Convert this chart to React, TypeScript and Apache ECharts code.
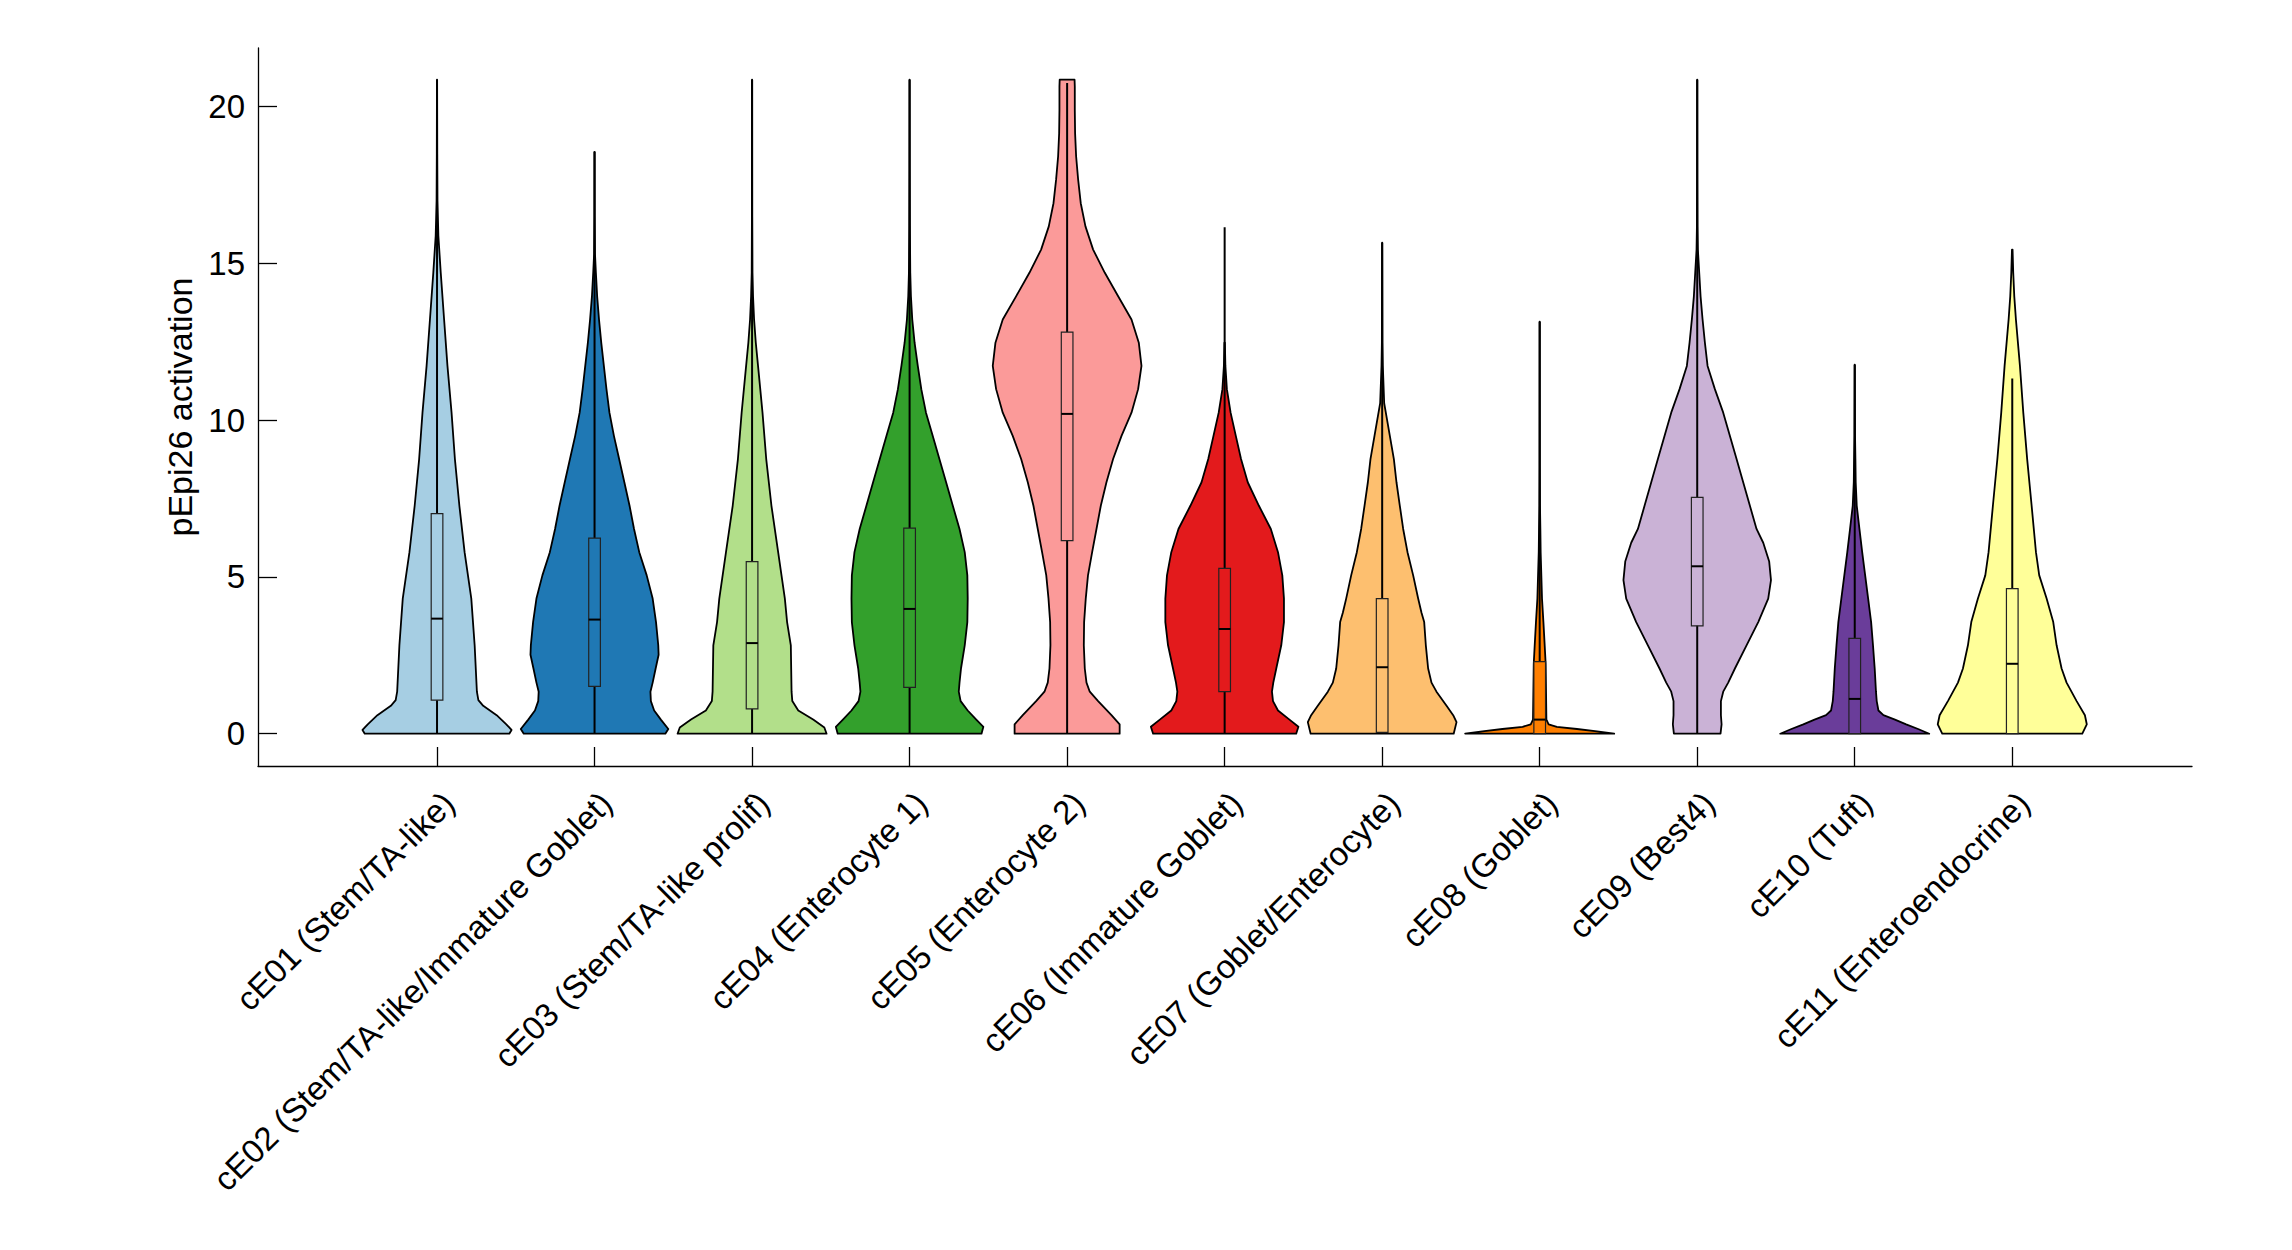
import React, { useEffect, useRef } from "react";
import * as echarts from "echarts";

const categories = [
  "cE01 (Stem/TA-like)",
  "cE02 (Stem/TA-like/Immature Goblet)",
  "cE03 (Stem/TA-like prolif)",
  "cE04 (Enterocyte 1)",
  "cE05 (Enterocyte 2)",
  "cE06 (Immature Goblet)",
  "cE07 (Goblet/Enterocyte)",
  "cE08 (Goblet)",
  "cE09 (Best4)",
  "cE10 (Tuft)",
  "cE11 (Enteroendocrine)",
];

const colors = [
  "#a6cee3", "#1f78b4", "#b2df8a", "#33a02c", "#fb9a99", "#e31a1c",
  "#fdbf6f", "#ff7f00", "#cab2d6", "#6a3d9a", "#ffff99",
];

// Box-plot statistics
const q1 = [1.07, 1.51, 0.79, 1.48, 6.16, 1.34, 0.04, 0.0, 3.44, 0.0, 0.0];
const medians = [3.67, 3.64, 2.89, 3.98, 10.2, 3.34, 2.12, 0.45, 5.34, 1.11, 2.23];
const q3 = [7.02, 6.24, 5.49, 6.56, 12.81, 5.27, 4.31, 2.3, 7.54, 3.04, 4.63];
const whiskerHigh = [20.86, 18.56, 20.86, 20.86, 20.75, 16.15, 15.66, 13.14, 20.86, 11.77, 11.33];

// Violin density profiles: [value, relative half-width]
const v01 = [[0,0.97],[0.12,1.0],[0.30,0.93],[0.59,0.80],[0.89,0.62],[1.07,0.555],[1.34,0.535],[2.82,0.505],[4.31,0.46],[5.79,0.37],[7.27,0.30],[8.76,0.24],[10.24,0.195],[11.73,0.14],[13.21,0.095],[14.70,0.05],[15.88,0.018],[17.0,0.006],[18.5,0.003],[20.86,0.001]];
const v02 = [[0,0.95],[0.15,0.99],[0.45,0.89],[0.74,0.80],[1.04,0.756],[1.34,0.75],[1.63,0.78],[2.08,0.82],[2.52,0.86],[2.82,0.855],[3.56,0.825],[4.31,0.78],[5.05,0.70],[5.79,0.60],[6.53,0.53],[7.27,0.47],[8.02,0.40],[8.76,0.33],[9.50,0.26],[10.24,0.20],[10.99,0.16],[11.73,0.125],[12.47,0.09],[13.21,0.06],[13.95,0.035],[14.70,0.018],[15.30,0.006],[16.5,0.002],[18.56,0.001]];
const v03 = [[0,1.0],[0.2,0.97],[0.45,0.82],[0.74,0.62],[1.04,0.54],[1.34,0.53],[2.82,0.52],[3.56,0.47],[4.31,0.44],[5.79,0.35],[7.27,0.26],[8.76,0.19],[10.24,0.14],[11.73,0.08],[12.47,0.05],[13.21,0.027],[13.95,0.013],[14.70,0.005],[16.5,0.002],[20.86,0.001]];
const v04 = [[0,0.965],[0.22,0.99],[0.45,0.895],[0.74,0.78],[1.04,0.685],[1.34,0.66],[1.63,0.67],[2.08,0.69],[2.82,0.74],[3.56,0.775],[4.31,0.78],[5.05,0.775],[5.79,0.74],[6.53,0.67],[7.27,0.58],[8.02,0.49],[8.76,0.40],[9.50,0.31],[10.24,0.22],[10.99,0.157],[11.73,0.11],[12.47,0.067],[13.21,0.036],[13.95,0.018],[14.70,0.009],[16.2,0.004],[18.0,0.002],[20.86,0.001]];
const v05 = [[0,0.705],[0.30,0.705],[0.59,0.595],[1.04,0.416],[1.34,0.304],[1.63,0.26],[2.08,0.237],[2.82,0.224],[3.56,0.228],[4.31,0.25],[5.05,0.28],[5.79,0.336],[6.53,0.394],[7.27,0.452],[8.02,0.528],[8.76,0.617],[9.50,0.73],[10.24,0.864],[10.99,0.953],[11.73,0.998],[12.47,0.962],[13.21,0.864],[13.95,0.685],[14.70,0.506],[15.44,0.349],[16.18,0.246],[16.92,0.183],[17.67,0.148],[18.41,0.121],[19.15,0.107],[19.89,0.103],[20.64,0.103],[20.86,0.10]];
const v06 = [[0,0.96],[0.22,0.99],[0.45,0.87],[0.74,0.716],[1.04,0.649],[1.34,0.635],[1.63,0.653],[2.08,0.693],[2.82,0.76],[3.56,0.796],[4.31,0.796],[5.05,0.774],[5.79,0.716],[6.53,0.62],[7.27,0.46],[8.02,0.31],[8.76,0.22],[9.50,0.15],[10.24,0.08],[10.99,0.03],[11.73,0.01],[12.47,0.003]];
const v07 = [[0,0.96],[0.37,0.998],[0.59,0.953],[0.89,0.864],[1.34,0.729],[1.63,0.662],[2.08,0.617],[2.82,0.586],[3.56,0.564],[3.86,0.528],[4.31,0.483],[5.05,0.416],[5.79,0.34],[6.53,0.282],[7.27,0.237],[8.02,0.192],[8.76,0.157],[9.50,0.103],[10.24,0.049],[10.54,0.027],[11.73,0.009],[12.47,0.004],[15.66,0.001]];
const v08 = [[0,1.0],[0.074,0.77],[0.15,0.50],[0.22,0.23],[0.30,0.12],[0.45,0.09],[1.34,0.085],[2.23,0.08],[2.82,0.067],[3.56,0.05],[4.31,0.031],[5.05,0.022],[5.79,0.013],[6.53,0.009],[7.27,0.004],[8.5,0.002],[13.14,0.001]];
const v09 = [[0,0.313],[0.30,0.327],[0.59,0.318],[1.04,0.318],[1.34,0.349],[1.63,0.416],[2.08,0.506],[2.82,0.662],[3.56,0.819],[4.31,0.953],[4.90,0.99],[5.49,0.966],[6.09,0.886],[6.53,0.796],[7.27,0.707],[8.02,0.617],[8.76,0.528],[9.50,0.438],[10.24,0.349],[10.99,0.237],[11.73,0.139],[12.47,0.103],[13.21,0.072],[13.95,0.045],[14.70,0.027],[15.44,0.009],[16.18,0.004],[17.67,0.002],[20.86,0.001]];
const v10 = [[0,1.0],[0.15,0.85],[0.30,0.69],[0.45,0.54],[0.59,0.385],[0.74,0.318],[1.04,0.295],[1.34,0.285],[2.08,0.268],[2.82,0.245],[3.56,0.22],[4.31,0.18],[5.05,0.14],[5.79,0.10],[6.53,0.063],[7.27,0.027],[8.02,0.013],[8.76,0.009],[9.50,0.004],[11.77,0.001]];
const v11 = [[0,0.94],[0.30,1.0],[0.59,0.975],[1.04,0.864],[1.63,0.729],[2.08,0.662],[2.82,0.595],[3.56,0.55],[4.31,0.461],[5.05,0.362],[5.79,0.318],[7.27,0.26],[8.76,0.20],[10.24,0.148],[11.73,0.103],[13.21,0.049],[13.95,0.027],[14.70,0.013],[15.44,0.004]];

const profiles = [v01, v02, v03, v04, v05, v06, v07, v08, v09, v10, v11];

const yTicks = [0, 5, 10, 15, 20];
const xTicks = categories.map((_, i) => i + 1);

const MAX_HALF = 0.473;
const BOX_HALF = 0.037;
const FONT = "'Liberation Sans', Arial, Helvetica, sans-serif";
const INK = "#000000";

export default function App() {
  const ref = useRef<HTMLDivElement>(null);

  useEffect(() => {
    if (!ref.current) return;
    const chart = echarts.init(ref.current, undefined, { renderer: "svg" });

    const renderItem = (params: any, api: any) => {
      const i = params.dataIndex;
      const cx = i + 1;
      const prof = profiles[i];
      const pts: number[][] = [];
      for (const [y, w] of prof) pts.push(api.coord([cx + w * MAX_HALF, y]));
      for (let k = prof.length - 1; k >= 0; k--) {
        pts.push(api.coord([cx - prof[k][1] * MAX_HALF, prof[k][0]]));
      }
      const wBot = api.coord([cx, 0]);
      const wTop = api.coord([cx, whiskerHigh[i]]);
      const bTL = api.coord([cx - BOX_HALF, q3[i]]);
      const bBR = api.coord([cx + BOX_HALF, q1[i]]);
      const mL = api.coord([cx - BOX_HALF, medians[i]]);
      const mR = api.coord([cx + BOX_HALF, medians[i]]);
      return {
        type: "group",
        children: [
          {
            type: "polygon",
            shape: { points: pts },
            style: { fill: colors[i], stroke: INK, lineWidth: 1.8, lineJoin: "round" },
          },
          {
            type: "line",
            shape: { x1: wBot[0], y1: wBot[1], x2: wTop[0], y2: wTop[1] },
            style: { stroke: INK, lineWidth: 2 },
          },
          {
            type: "rect",
            shape: { x: bTL[0], y: bTL[1], width: bBR[0] - bTL[0], height: bBR[1] - bTL[1] },
            style: { fill: colors[i], stroke: "#222222", lineWidth: 1.2 },
          },
          {
            type: "line",
            shape: { x1: mL[0], y1: mL[1], x2: mR[0], y2: mR[1] },
            style: { stroke: INK, lineWidth: 2 },
          },
        ],
      };
    };

    chart.setOption({
      animation: false,
      backgroundColor: "#ffffff",
      grid: { left: 258, right: 100, top: 48, bottom: 484, containLabel: false },
      xAxis: {
        type: "value",
        min: -0.1365,
        max: 12.141,
        axisLine: { show: true, onZero: false, lineStyle: { color: INK, width: 1.3 } },
        axisTick: {
          show: true,
          inside: true,
          length: 19,
          customValues: xTicks,
          lineStyle: { color: INK, width: 1.3 },
        },
        axisLabel: {
          customValues: xTicks,
          formatter: (v: number) => categories[Math.round(v) - 1] ?? "",
          rotate: 45,
          margin: 20,
          verticalAlign: "top",
          fontSize: 33,
          fontFamily: FONT,
          color: INK,
        },
        splitLine: { show: false },
      },
      yAxis: {
        type: "value",
        min: -1.03,
        max: 21.87,
        name: "pEpi26 activation",
        nameLocation: "middle",
        nameGap: 56,
        nameTextStyle: { fontSize: 34, fontFamily: FONT, color: INK },
        axisLine: { show: true, onZero: false, lineStyle: { color: INK, width: 1.3 } },
        axisTick: {
          show: true,
          inside: true,
          length: 19,
          customValues: yTicks,
          lineStyle: { color: INK, width: 1.3 },
        },
        axisLabel: {
          customValues: yTicks,
          margin: 13,
          fontSize: 33,
          fontFamily: FONT,
          color: INK,
        },
        splitLine: { show: false },
      },
      series: [
        {
          type: "custom",
          renderItem,
          data: categories.map((_, i) => [i + 1, medians[i]]),
          encode: { x: 0, y: 1 },
          clip: false,
        },
      ],
    });

    return () => chart.dispose();
  }, []);

  return (
    <div
      ref={ref}
      style={{ position: "absolute", left: 0, top: 0, width: 2292, height: 1250, background: "#fff" }}
    />
  );
}
